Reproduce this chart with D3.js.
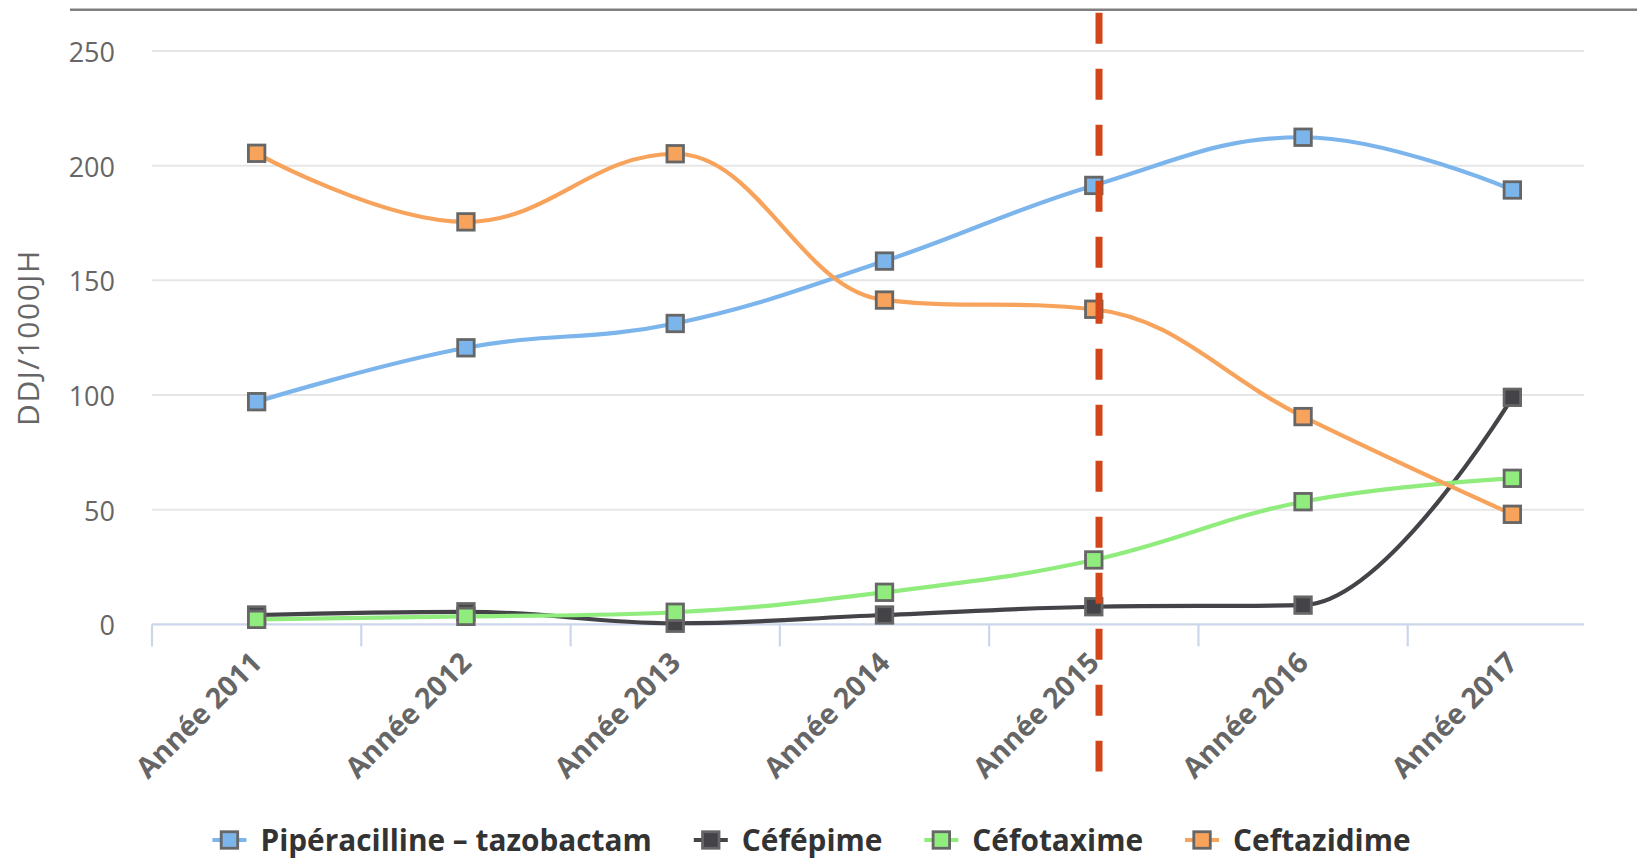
<!DOCTYPE html>
<html lang="fr">
<head>
<meta charset="utf-8">
<title>Consommation d'antibiotiques (DDJ/1000JH)</title>
<script src="https://cdn.jsdelivr.net/npm/d3@7"></script>
<style>
  html, body { margin: 0; padding: 0; background: #ffffff; }
  svg { display: block; font-family: "Open Sans", "Noto Sans", sans-serif; }
</style>
</head>
<body>
<svg id="chart" width="1637" height="859"></svg>
<script>
// ---- Data -------------------------------------------------------------
const categories = ["Année 2011", "Année 2012", "Année 2013", "Année 2014", "Année 2015", "Année 2016", "Année 2017"];
const seriesNames = ["Pipéracilline – tazobactam", "Céfépime", "Céfotaxime", "Ceftazidime"];
const piperacillineTazobactam = [97.1, 120.6, 131.2, 158.4, 191.4, 212.4, 189.4];
const cefepime = [4.1, 5.5, 0.5, 4.1, 7.7, 8.4, 99.0];
const cefotaxime = [2.2, 3.5, 5.3, 14.0, 28.1, 53.5, 63.7];
const ceftazidime = [205.4, 175.5, 205.2, 141.4, 137.4, 90.6, 48.0];
const yTickValues = [0, 50, 100, 150, 200, 250];
const yAxisTitle = "DDJ/1000JH";
// Vertical marker drawn just after the 2015 point (category index units)
const dividerIndex = 4.025;

const seriesValues = [piperacillineTazobactam, cefepime, cefotaxime, ceftazidime];
const seriesColors = ["#7cb5ec", "#434348", "#90ed7d", "#f7a35c"];

// ---- Layout ----------------------------------------------------------
const svg = d3.select("#chart");
const plotLeft = 152, axisRight = 1584, bandsRight = 1617;
const plotTop = 51, plotBottom = 624.4;

const x = d3.scaleLinear().domain([-0.5, categories.length - 0.5]).range([plotLeft, bandsRight]);
const y = d3.scaleLinear().domain([0, 250]).range([plotBottom, plotTop]);

// Spline matching the classic Highcharts smoothing (factor 1.5, no overshoot)
function SmoothSpline(context) { this._context = context; }
SmoothSpline.prototype = {
  areaStart() {}, areaEnd() {},
  lineStart() { this._pts = []; },
  point(px, py) { this._pts.push([+px, +py]); },
  lineEnd() {
    const p = this._pts, ctx = this._context, s = 1.5, d = s + 1;
    let prevRight = null;
    p.forEach(([px, py], i) => {
      if (i === 0) { ctx.moveTo(px, py); return; }
      const last = p[i - 1], next = p[i + 1];
      let lc = [px, py], rc = null;
      if (next) {
        let lx = (s * px + last[0]) / d, ly = (s * py + last[1]) / d;
        let rx = (s * px + next[0]) / d, ry = (s * py + next[1]) / d;
        if (rx !== lx) {
          const corr = ((ry - ly) * (rx - px)) / (rx - lx) + py - ry;
          ly += corr; ry += corr;
          if (ly > last[1] && ly > py) { ly = Math.max(last[1], py); ry = 2 * py - ly; }
          else if (ly < last[1] && ly < py) { ly = Math.min(last[1], py); ry = 2 * py - ly; }
          if (ry > next[1] && ry > py) { ry = Math.max(next[1], py); ly = 2 * py - ry; }
          else if (ry < next[1] && ry < py) { ry = Math.min(next[1], py); ly = 2 * py - ry; }
        }
        lc = [lx, ly]; rc = [rx, ry];
      }
      const c1 = prevRight || last;
      ctx.bezierCurveTo(c1[0], c1[1], lc[0], lc[1], px, py);
      prevRight = rc;
    });
  }
};
const curveSmoothSpline = ctx => new SmoothSpline(ctx);

// ---- Frame line across the top -----------------------------------------
svg.append("line")
  .attr("x1", 70).attr("x2", 1637).attr("y1", 9.7).attr("y2", 9.7)
  .attr("stroke", "#7f7f7f").attr("stroke-width", 2.5);

// ---- Grid and y labels -----------------------------------------------------
const grid = svg.append("g");
grid.selectAll("line").data(yTickValues.filter(v => v > 0)).join("line")
  .attr("x1", plotLeft).attr("x2", axisRight)
  .attr("y1", d => y(d)).attr("y2", d => y(d))
  .attr("stroke", "#e6e6e6").attr("stroke-width", 2);

svg.append("g").selectAll("text").data(yTickValues).join("text")
  .attr("x", 115).attr("y", d => y(d) + 11)
  .attr("text-anchor", "end")
  .attr("fill", "#666666")
  .style("font-size", "27px")
  .text(d => d);

svg.append("text")
  .attr("transform", `translate(39, ${(plotTop + plotBottom) / 2}) rotate(-90)`)
  .attr("text-anchor", "middle")
  .attr("fill", "#666666")
  .style("font-size", "30px")
  .style("letter-spacing", "1.5px")
  .text(yAxisTitle);

// ---- X axis ----------------------------------------------------------------
const xAxis = svg.append("g");
xAxis.append("line")
  .attr("x1", plotLeft).attr("x2", axisRight)
  .attr("y1", plotBottom).attr("y2", plotBottom)
  .attr("stroke", "#ccd6eb").attr("stroke-width", 2.2);
const boundaries = d3.range(categories.length).map(i => i - 0.5);
xAxis.selectAll("line.tick").data(boundaries).join("line")
  .attr("class", "tick")
  .attr("x1", d => x(d)).attr("x2", d => x(d))
  .attr("y1", plotBottom).attr("y2", plotBottom + 22)
  .attr("stroke", "#ccd6eb").attr("stroke-width", 2.2);
xAxis.selectAll("text").data(categories).join("text")
  .attr("transform", (d, i) => `translate(${x(i) + 7}, ${plotBottom + 40}) rotate(-45)`)
  .attr("text-anchor", "end")
  .attr("fill", "#666666")
  .style("font-size", "28.5px")
  .style("font-weight", "bold")
  .text(d => d);

// ---- Series ----------------------------------------------------------------
const line = d3.line()
  .x((d, i) => x(i))
  .y(d => y(d))
  .curve(curveSmoothSpline);

const markerSize = 16.5;
seriesValues.forEach((values, k) => {
  const g = svg.append("g");
  g.append("path")
    .attr("d", line(values))
    .attr("fill", "none")
    .attr("stroke", seriesColors[k])
    .attr("stroke-width", 4.2)
    .attr("stroke-linejoin", "round")
    .attr("stroke-linecap", "round");
  g.selectAll("rect").data(values).join("rect")
    .attr("x", (d, i) => x(i) - markerSize / 2)
    .attr("y", d => y(d) - markerSize / 2)
    .attr("width", markerSize).attr("height", markerSize)
    .attr("fill", seriesColors[k])
    .attr("stroke", "#666666").attr("stroke-width", 2.8);
});

// ---- Dashed divider --------------------------------------------------------
svg.append("line")
  .attr("x1", x(dividerIndex)).attr("x2", x(dividerIndex))
  .attr("y1", 12.7).attr("y2", 771.5)
  .attr("stroke", "#d2461a").attr("stroke-width", 7)
  .attr("stroke-dasharray", "31,25");

// ---- Legend ----------------------------------------------------------------
const legend = svg.append("g");
const legendY = 840, symbolW = 34, symbolGap = 14, itemGap = 42;
const items = legend.selectAll("g").data(seriesNames).join("g");
items.append("text")
  .attr("x", symbolW + symbolGap).attr("y", legendY + 11)
  .attr("fill", "#333333")
  .style("font-size", "29.8px")
  .style("font-weight", "bold")
  .text(d => d);
items.append("line")
  .attr("x1", 0).attr("x2", symbolW)
  .attr("y1", legendY).attr("y2", legendY)
  .attr("stroke", (d, i) => seriesColors[i]).attr("stroke-width", 4.2);
items.append("rect")
  .attr("x", symbolW / 2 - markerSize / 2).attr("y", legendY - markerSize / 2)
  .attr("width", markerSize).attr("height", markerSize)
  .attr("fill", (d, i) => seriesColors[i])
  .attr("stroke", "#666666").attr("stroke-width", 2.8);

const widths = items.nodes().map(n => symbolW + symbolGap + n.querySelector("text").getComputedTextLength());
const total = d3.sum(widths) + itemGap * (widths.length - 1);
let cursor = 811.5 - total / 2;
items.attr("transform", (d, i) => {
  const t = `translate(${cursor}, 0)`;
  cursor += widths[i] + itemGap;
  return t;
});
</script>
</body>
</html>
